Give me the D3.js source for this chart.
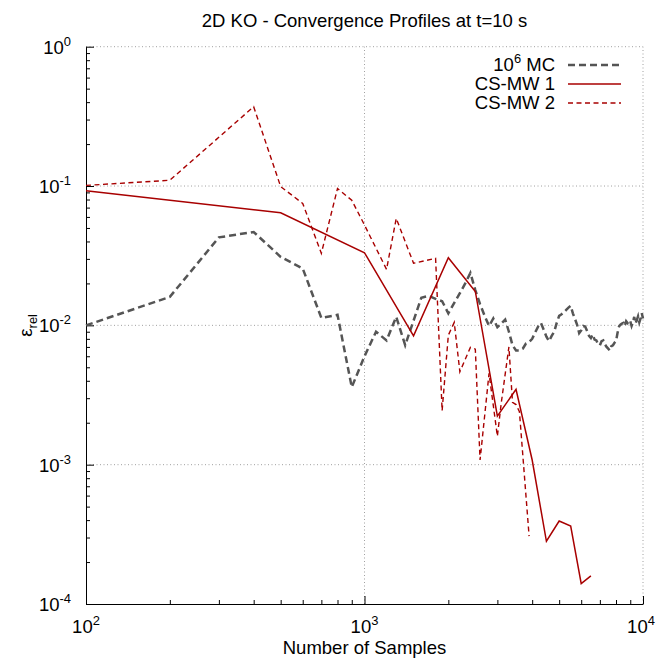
<!DOCTYPE html>
<html>
<head>
<meta charset="utf-8">
<script src="https://cdn.jsdelivr.net/npm/d3@7"></script>
<style>
  html, body { margin: 0; padding: 0; background: #fff; }
  svg { display: block; font-family: "Liberation Sans", Arial, Helvetica, sans-serif; }
</style>
</head>
<body>
<svg id="chart" width="657" height="663"></svg>
<script>
// Number of samples for the Monte Carlo reference (every 100 samples)
const mcSamples = d3.range(100, 10001, 100);
// Relative error of the 10^6 MC reference run
const mcError = [
  0.0100, 0.0160, 0.0428, 0.0468, 0.0310, 0.0256, 0.0113, 0.0119, 0.0036, 0.0060,
  0.0090, 0.0078, 0.0115, 0.0072, 0.0108, 0.0158, 0.0163, 0.0155, 0.0149, 0.0122,
  0.0145, 0.0170, 0.0200, 0.0238, 0.0179, 0.0142, 0.0117, 0.0099, 0.0112, 0.0097,
  0.0103, 0.0110, 0.0090, 0.0072, 0.0066, 0.0066, 0.0068, 0.0074, 0.0076, 0.0080,
  0.0089, 0.0098, 0.0104, 0.0093, 0.0083, 0.0077, 0.0084, 0.0090, 0.0104, 0.0117,
  0.0120, 0.0124, 0.0129, 0.0134, 0.0138, 0.0122, 0.0111, 0.0101, 0.0088, 0.0092,
  0.0099, 0.0098, 0.0091, 0.0084, 0.0081, 0.0086, 0.0079, 0.0078, 0.0073, 0.0072,
  0.0077, 0.0078, 0.0073, 0.0070, 0.0068, 0.0066, 0.0071, 0.0072, 0.0075, 0.0077,
  0.0088, 0.0098, 0.0101, 0.0103, 0.0104, 0.0099, 0.0107, 0.0104, 0.0109, 0.0107,
  0.0099, 0.0105, 0.0115, 0.0103, 0.0109, 0.0116, 0.0105, 0.0112, 0.0122, 0.0112
];

// CS-MW 1
const mw1Samples = [100, 500, 1000, 1500, 2000, 2500, 3000, 3500, 4000, 4500, 5000, 5500, 6000, 6500];
const mw1Error   = [0.0925, 0.0643, 0.0332, 0.0084, 0.0306, 0.0175, 0.00223, 0.00347, 0.00108, 0.000282, 0.000394, 0.000363, 0.000140, 0.000159];

// CS-MW 2
const mw2Samples = [100, 200, 400, 500, 600, 700, 800, 900, 1000, 1200, 1300, 1500, 1800, 1900, 2000, 2100, 2200, 2400, 2500, 2600, 2800, 3000, 3100, 3300, 3400, 3500, 3600, 3900];
const mw2Error   = [0.101, 0.110, 0.371, 0.099, 0.075, 0.0329, 0.096, 0.079, 0.0525, 0.0252, 0.0586, 0.0279, 0.0303, 0.00244, 0.0085, 0.0105, 0.00464, 0.00695, 0.00675, 0.00108, 0.00452, 0.00160, 0.00280, 0.00700, 0.00280, 0.00270, 0.00240, 0.000307];

// Axis tick exponents
const xExponents = [2, 3, 4];
const yExponents = [-4, -3, -2, -1, 0];

const titleText = "2D KO - Convergence Profiles at t=10 s";
const xLabelText = "Number of Samples";

const series = [
  { name: "MC",      sup: "6", label: "MC",      xs: mcSamples,  ys: mcError,  color: "#555555", width: 2.5, dash: "7,4" },
  { name: "CS-MW 1", label: "CS-MW 1", xs: mw1Samples, ys: mw1Error, color: "#a80000", width: 1.5, dash: null },
  { name: "CS-MW 2", label: "CS-MW 2", xs: mw2Samples, ys: mw2Error, color: "#a80000", width: 1.4, dash: "5,3.5" }
];

const plotLeft = 86, plotRight = 643, plotTop = 46.7, plotBottom = 604;
const svg = d3.select("#chart");
const fs = 18.5;

const x = d3.scaleLog().domain([100, 10000]).range([plotLeft, plotRight]);
const y = d3.scaleLog().domain([1e-4, 1]).range([plotBottom, plotTop]);

// dotted grid at major ticks
const grid = svg.append("g").attr("stroke", "#a0a0a0").attr("stroke-width", 1).attr("stroke-dasharray", "1,2.5");
xExponents.slice(1).forEach(e => {
  grid.append("line").attr("x1", x(10 ** e)).attr("x2", x(10 ** e)).attr("y1", plotBottom).attr("y2", plotTop);
});
yExponents.slice(1).forEach(e => {
  grid.append("line").attr("x1", plotLeft).attr("x2", plotRight).attr("y1", y(10 ** e)).attr("y2", y(10 ** e));
});

// minor tick values
const xMinor = [], yMinor = [];
for (let e = 2; e < 4; e++) for (let m = 2; m <= 9; m++) xMinor.push(m * 10 ** e);
for (let e = -4; e < 0; e++) for (let m = 2; m <= 9; m++) yMinor.push(m * 10 ** e);

// axes with inward ticks
const xAxisG = svg.append("g").attr("transform", `translate(0,${plotBottom})`);
xAxisG.call(d3.axisBottom(x).tickValues(xMinor).tickSize(-4).tickFormat(""));
xAxisG.call(g => g.select(".domain").remove());
svg.append("g").attr("transform", `translate(0,${plotBottom})`)
  .call(d3.axisBottom(x).tickValues(xExponents.map(e => 10 ** e)).tickSize(-8).tickSizeOuter(0).tickFormat(""));

const yAxisG = svg.append("g").attr("transform", `translate(${plotLeft},0)`);
yAxisG.call(d3.axisLeft(y).tickValues(yMinor).tickSize(-4).tickFormat(""));
yAxisG.call(g => g.select(".domain").remove());
svg.append("g").attr("transform", `translate(${plotLeft},0)`)
  .call(d3.axisLeft(y).tickValues(yExponents.map(e => 10 ** e)).tickSize(-8).tickSizeOuter(0).tickFormat(""));

svg.selectAll(".domain").attr("stroke", "#000").attr("stroke-width", 1);
svg.selectAll(".tick line").attr("stroke", "#000").attr("stroke-width", 1);

// power-of-ten labels
function powerLabel(g, exp, anchor) {
  const t = g.append("text").attr("font-size", fs).attr("fill", "#000").attr("text-anchor", anchor);
  t.append("tspan").text("10");
  t.append("tspan").attr("font-size", fs * 0.7).attr("dy", -8).text(String(exp));
  return t;
}
xExponents.forEach(e => {
  powerLabel(svg, e, "middle").attr("x", Math.min(x(10 ** e), 641)).attr("y", plotBottom + 29);
});
yExponents.forEach(e => {
  powerLabel(svg, e, "end").attr("x", plotLeft - 15).attr("y", y(10 ** e) + 7);
});

// title and axis labels
svg.append("text").attr("x", (plotLeft + plotRight) / 2).attr("y", 27).attr("text-anchor", "middle")
  .attr("font-size", fs).text(titleText);
svg.append("text").attr("x", (plotLeft + plotRight) / 2).attr("y", 654).attr("text-anchor", "middle")
  .attr("font-size", fs).text(xLabelText);
const yl = svg.append("text").attr("transform", `translate(32,${(plotTop + plotBottom) / 2}) rotate(-90)`)
  .attr("text-anchor", "middle").attr("font-size", fs);
yl.append("tspan").text("ε");
yl.append("tspan").attr("font-size", fs * 0.7).attr("dy", 5).text("rel");

// series lines
const line = d3.line().x(d => x(d[0])).y(d => y(d[1]));
series.forEach(s => {
  const pts = s.xs.map((v, i) => [v, s.ys[i]]);
  svg.append("path").datum(pts).attr("d", line)
    .attr("fill", "none").attr("stroke", s.color).attr("stroke-width", s.width)
    .attr("stroke-dasharray", s.dash).attr("stroke-linejoin", "miter");
});

// legend
const legend = svg.append("g");
series.forEach((s, i) => {
  const cy = 65 + i * 19;
  const t = legend.append("text").attr("x", 555).attr("y", cy + 6).attr("text-anchor", "end").attr("font-size", fs);
  if (s.sup) {
    t.append("tspan").text("10");
    t.append("tspan").attr("font-size", fs * 0.7).attr("dy", -8).text(s.sup);
    t.append("tspan").attr("dy", 8).text(" " + s.label);
  } else {
    t.text(s.label);
  }
  legend.append("line").attr("x1", 568).attr("x2", 621).attr("y1", cy).attr("y2", cy)
    .attr("stroke", s.color).attr("stroke-width", s.width).attr("stroke-dasharray", s.dash);
});
</script>
</body>
</html>
